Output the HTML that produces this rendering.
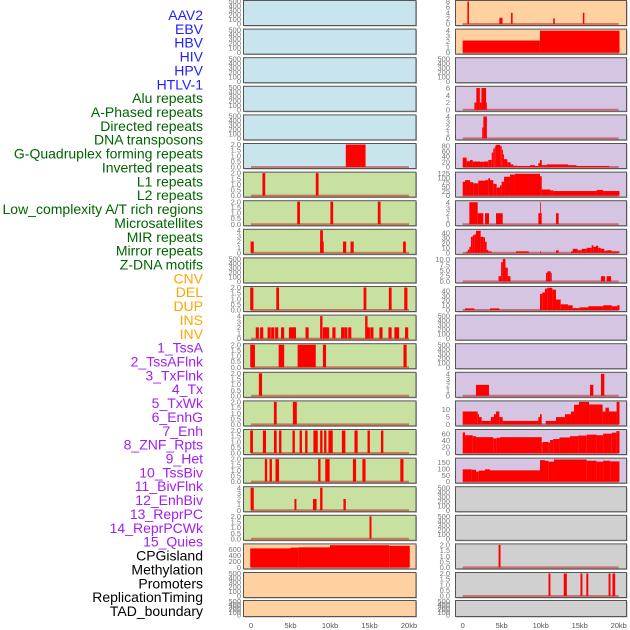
<!DOCTYPE html>
<html><head><meta charset="utf-8">
<style>
html,body{margin:0;padding:0;background:#fff;width:630px;height:630px;overflow:hidden}
svg{display:block}
</style></head>
<body>
<svg id="chart" width="630" height="630" viewBox="0 0 630 630" xmlns="http://www.w3.org/2000/svg" font-family="Liberation Sans, sans-serif"></svg>
<script>
// ---- labels ----
const trackLabels = ["AAV2","EBV","HBV","HIV","HPV","HTLV-1","Alu repeats","A-Phased repeats","Directed repeats","DNA transposons","G-Quadruplex forming repeats","Inverted repeats","L1 repeats","L2 repeats","Low_complexity A/T rich regions","Microsatellites","MIR repeats","Mirror repeats","Z-DNA motifs","CNV","DEL","DUP","INS","INV","1_TssA","2_TssAFlnk","3_TxFlnk","4_Tx","5_TxWk","6_EnhG","7_Enh","8_ZNF_Rpts","9_Het","10_TssBiv","11_BivFlnk","12_EnhBiv","13_ReprPC","14_ReprPCWk","15_Quies","CPGisland","Methylation","Promoters","ReplicationTiming","TAD_boundary"];
const labelColors = ["#1f1fff","#1f1fff","#1f1fff","#1f1fff","#1f1fff","#1f1fff","#006400","#006400","#006400","#006400","#006400","#006400","#006400","#006400","#006400","#006400","#006400","#006400","#006400","#ffa500","#ffa500","#ffa500","#ffa500","#ffa500","#a020f0","#a020f0","#a020f0","#a020f0","#a020f0","#a020f0","#a020f0","#a020f0","#a020f0","#a020f0","#a020f0","#a020f0","#a020f0","#a020f0","#a020f0","#000","#000","#000","#000","#000"];
const xTickValues = [0,5,10,15,20];
const xTickLabels = ["0","5kb","10kb","15kb","20kb"];

// ---- y axis maxima and ticks (per panel, 44 panels) ----
const yMax = [500,500,500,500,500,2,2,2,4,500,2,4,2,2,2,2,2,4,2,740,500,500,
              8,4.1,500,6.2,4.1,86,128,4.1,45,10.3,47.5,500,500,4.1,14.8,71,178,500,500,2,2,500];
const t500 = ["0","100","200","300","400","500"], t2 = ["0.0","0.5","1.0","1.5","2.0"], t4 = ["0","1","2","3","4"];
const yTicks = [t500,t500,t500,t500,t500,t2,t2,t2,t4,t500,t2,t4,t2,t2,t2,t2,t2,t4,t2,["0","200","400","600"],t500,t500,
  ["0","2","4","6","8"],t4,t500,["0","2","4","6"],t4,["0","20","40","60","80"],["0","25","50","75","100","125"],t4,["0","10","20","30","40"],["0.0","2.5","5.0","7.5","10.0"],["0","10","20","30","40"],t500,t500,t4,["0","5","10"],["0","20","40","60"],["0","50","100","150"],t500,t500,t2,t2,t500];

// ---- series: segments [startKb, endKb, value] ----
const htlv = [[12.0,14.5,2]];
const alu = [[1.45,1.8,2],[8.2,8.55,2]];
const aphased = [[5.85,6.2,2],[10.05,10.4,2],[16.05,16.4,2]];
const directed = [[-0.05,0.35,2],[8.75,9.1,4],[8.75,9.2,2],[11.65,12.05,2],[12.6,13.0,2],[19.25,19.6,2]];
const gquad = [[-0.1,0.3,2],[3.2,3.55,2],[14.25,14.6,2],[17.45,17.8,2],[19.4,19.8,2]];
const inverted = [[0.6,1.0,2],[1.15,1.55,2],[2.1,2.5,2],[2.55,2.95,2],[3.05,3.45,2],[3.8,4.2,2],[4.8,5.2,2],[5.1,5.5,2],[5.3,5.7,2],[6.9,7.3,2],[9.1,9.5,2],[9.3,9.7,2],[9.5,9.9,2],[10.3,10.7,2],[11.4,11.8,2],[11.8,12.2,2],[12.3,12.7,2],[14.65,15.05,2],[15.1,15.5,2],[16.25,16.65,2],[17.4,17.8,2],[18.15,18.55,2],[18.35,18.75,2],[19.5,19.9,2],[8.75,9.05,4],[14.45,14.75,4]];
const l1 = [[-0.1,0.5,2],[3.5,4.2,2],[5.9,8.2,2],[9.1,9.5,2],[19.3,19.7,2]];
const l2 = [[1.0,1.4,2]];
const lowcomp = [[2.9,3.25,2],[5.3,5.8,2]];
const microsat = [[-0.1,0.25,2],[1.5,1.9,2],[2.9,3.25,2],[3.55,3.85,2],[5.25,5.55,2],[6.15,6.45,2],[6.85,7.15,2],[7.9,8.45,2],[8.75,9.05,2],[9.25,9.55,2],[9.8,10.35,2],[11.5,11.95,2],[13.1,13.5,2],[14.75,15.05,2],[16.45,16.75,2]];
const mir = [[1.75,2.05,2],[2.35,2.65,2],[3.1,3.55,2],[8.5,8.8,2],[9.4,9.95,2],[12.9,13.3,2],[14.1,14.5,2],[18.9,19.3,2]];
const mirror = [[-0.05,0.35,4],[5.5,5.75,2],[7.85,8.3,2],[8.75,9.05,4],[11.7,12.0,2]];
const zdna = [[15.0,15.25,2]];
const cnv = [[-0.1,5.0,625],[5.0,6.0,650],[6.0,10.0,660],[10.0,17.5,730],[17.5,20.1,710]];
const ins = [[0.6,0.8,8],[4.7,5.1,2.2],[6.2,6.4,4],[11.6,11.8,2],[15.4,15.6,4]];
const inv = [[0.0,9.9,2.2],[9.9,20.1,4]];
const tssaflnk = [[1.5,1.75,2],[1.75,2.2,6],[2.2,2.4,2],[2.4,3.0,6],[3.0,3.1,2]];
const txflnk = [[2.5,2.65,2],[2.65,3.1,4]];
const tx = [[0,0.51,36],[0.51,0.94,22],[0.94,1.28,27],[1.28,2.22,21],[2.22,2.64,20],[2.64,3.28,21],[3.28,3.72,27],[3.72,3.92,55],[3.92,4.1,70],[4.1,4.23,78],[4.23,4.8,85],[4.8,5.0,80],[5.0,5.15,66],[5.15,5.3,48],[5.3,5.72,30],[5.72,6.15,18],[6.15,6.49,10],[6.49,7.0,5],[7.0,8.63,4],[8.63,9.27,7],[9.27,9.7,4],[9.7,9.91,15],[9.91,10.13,27],[10.13,10.77,7],[10.77,13.5,10],[13.5,14.58,7],[14.58,18.76,4]];
const txwk = [[0,0.3,79],[0.3,0.94,88],[0.94,1.36,76],[1.36,2.0,70],[2.0,2.86,85],[2.86,3.28,88],[3.28,3.5,99],[3.5,3.92,88],[3.92,4.35,67],[4.35,4.78,46],[4.78,4.99,58],[4.99,5.3,79],[5.3,6.06,107],[6.06,6.7,120],[6.7,9.91,124],[9.91,10.13,110],[10.13,11.2,35],[11.2,11.6,30],[11.6,17.17,26],[17.17,18.0,32],[18.0,20.1,26]];
const enhg = [[0.85,1.92,4],[1.92,2.64,2],[2.86,3.37,2],[4.27,5.13,2],[9.7,10.13,2],[9.91,10.0,4],[11.96,12.3,2]];
const enh = [[0.42,0.64,2],[0.64,0.85,6],[0.85,1.06,12],[1.06,1.28,32],[1.28,1.49,35],[1.49,1.71,37],[1.71,2.3,44],[2.3,2.64,32],[2.64,2.86,31],[2.86,3.07,22],[3.07,3.28,6],[3.28,3.71,3],[6.83,8.46,3],[9.91,10.04,3],[11.96,12.3,5],[13.88,14.1,3],[14.1,14.74,8],[14.74,15.25,5],[15.25,15.89,8],[15.89,16.53,10],[16.53,16.75,15],[16.75,17.09,12],[17.09,17.38,14],[17.38,17.68,10],[17.68,18.16,8],[18.16,18.46,4],[18.46,19.1,5],[19.1,20.1,3]];
const znf = [[4.6,4.92,2.4],[4.92,5.14,8.8],[5.14,5.48,10.3],[5.48,5.78,6.3],[5.78,6.12,2.4],[10.68,10.85,3.9],[10.85,11.28,4.6],[11.28,11.41,3.9],[17.73,18.24,2.4],[18.46,19.02,2.4]];
const het = [[0.3,1.5,3.4],[3.5,4.7,3.4],[9.91,10.2,34],[10.2,10.55,37],[10.55,10.85,45],[10.85,11.5,47],[11.5,11.96,43],[11.96,12.56,22],[12.56,13.5,12],[13.5,14.1,10],[14.1,14.95,4],[14.95,16.1,5.5],[16.1,18.0,8],[18.0,19.1,10],[19.1,19.8,8],[19.8,20.1,10]];
const enhbiv = [[1.7,3.37,2],[16.32,16.75,2],[17.73,18.16,4]];
const reprpc = [[0,1.92,8.5],[1.92,2.09,6.7],[2.09,2.43,4.8],[2.43,3.6,2.3],[3.6,4.01,4.8],[4.01,4.27,6.7],[4.27,4.7,8.5],[4.7,5.13,4.8],[5.13,9.7,2.3],[9.7,9.91,4.8],[9.91,10.13,6.7],[10.64,11.96,2.3],[11.96,13.12,4.8],[13.12,13.88,6.7],[13.88,14.27,8.5],[14.27,14.91,12.9],[14.91,16.2,14.8],[16.2,17.94,13.1],[17.94,18.3,8.5],[18.3,18.75,11],[18.75,19.73,8.5],[19.73,20.1,14.8]];
const reprpcwk = [[0,0.3,65],[0.3,1.28,56],[1.28,1.71,53],[1.71,3.92,50],[3.92,4.35,46],[4.35,4.78,48],[4.78,10.13,50],[10.13,10.26,33],[10.26,10.98,35],[10.98,11.2,33],[11.2,11.6,41],[11.6,12.4,44],[12.4,13.76,49],[13.76,14.8,53],[14.8,15.9,55],[15.9,17.17,58],[17.17,18.0,56],[18.0,19.1,61],[19.1,19.7,64],[19.7,20.1,69]];
const quies = [[0,1.15,97],[1.15,1.71,94],[1.71,2.05,79],[2.05,2.86,87],[2.86,3.5,97],[3.5,9.91,89],[9.91,10.55,170],[10.55,10.98,165],[10.98,11.7,158],[11.7,15.9,175],[15.9,17.17,165],[17.17,18.0,158],[18.0,18.9,165],[18.9,20.1,160]];
const promoters = [[4.6,4.85,2]];
const reptiming = [[11.0,11.25,2],[12.95,13.35,2],[15.1,15.35,2],[15.85,16.1,2],[18.7,18.95,2],[19.2,19.55,2]];

const panelSeries = [null,null,null,null,null,htlv,alu,aphased,directed,null,gquad,inverted,l1,l2,lowcomp,microsat,mir,mirror,zdna,cnv,null,null,
  ins,inv,null,tssaflnk,txflnk,tx,txwk,enhg,enh,znf,het,null,null,enhbiv,reprpc,reprpcwk,quies,null,null,promoters,reptiming,null];

const NS = "http://www.w3.org/2000/svg";
const svg = document.getElementById('chart');
function bgFor(i){ return i<6?"#c8e4ec":(i<19?"#c8e1a1":(i<24?"#ffd1a0":(i<39?"#d6c5e2":"#d0d0d0"))); }
function mk(tag, attrs){ const e=document.createElementNS(NS,tag); for(const k in attrs) e.setAttribute(k,attrs[k]); return e; }

trackLabels.forEach((t,i)=>{
  const el = mk('text',{x:203,y:(20+i*13.86).toFixed(1),'text-anchor':'end','font-size':'14',fill:labelColors[i]});
  el.textContent=t;
  
  
  svg.appendChild(el);
});

function panelGeom(i){
  const col = i<22?0:1, row = i%22;
  const left = col===0?243.5:455.5, right = col===0?416:626.5;
  const top = row<21? row*28.6+0.5 : 600.5;
  const h = row<21? 25 : 16;
  const x0 = col===0?251:462.7, sc = col===0?7.9:7.8;
  return {col,row,left,right,top,h,x0,sc};
}

for (let i=0;i<44;i++){
  const g = panelGeom(i);
  const grp = mk('g',{});
  
  
  svg.appendChild(grp);
  const xs = kb => g.x0 + kb*g.sc;
  const ys = v => g.top + 1 + (1 - v/yMax[i])*(g.h-2.5);
  grp.appendChild(mk('rect',{x:g.left+1,y:g.top+1,width:g.right-g.left,height:g.h,fill:'#b0b0b0'}));
  grp.appendChild(mk('rect',{x:g.left,y:g.top,width:g.right-g.left,height:g.h,fill:bgFor(i),stroke:'#555',"stroke-width":1}));
  const ser = panelSeries[i];
  if (ser){
    grp.appendChild(mk('line',{x1:xs(0),x2:xs(20),y1:ys(0),y2:ys(0),stroke:'rgba(190,0,0,0.45)','stroke-width':2}));
    ser.forEach(s=>{
      const b = mk('rect',{x:xs(s[0]).toFixed(2),y:ys(s[2]).toFixed(2),width:Math.max(0.8,xs(s[1])-xs(s[0])).toFixed(2),height:(ys(0)-ys(s[2])).toFixed(2),fill:'#ff0000'});
      
      
      grp.appendChild(b);
    });
  }
  const tk = yTicks[i];
  const tx = g.col===0?241:450;
  tk.forEach(lbl=>{
    const v = parseFloat(lbl);
    const t = mk('text',{x:tx,y:(ys(v)+2.6).toFixed(1),'text-anchor':'end','font-size':'7.5',fill:'#777'});
    t.textContent = lbl;
    
    
    grp.appendChild(t);
  });
}
[0,1].forEach(c=>{
  const x0 = c===0?251:462.7, sc = c===0?7.9:7.8;
  xTickValues.forEach((v,k)=>{
    const t = mk('text',{x:(x0+v*sc).toFixed(1),y:628,'text-anchor':'middle','font-size':'7.5',fill:'#555'});
    t.textContent = xTickLabels[k];
    
    
    svg.appendChild(t);
  });
});
</script>
</body></html>
